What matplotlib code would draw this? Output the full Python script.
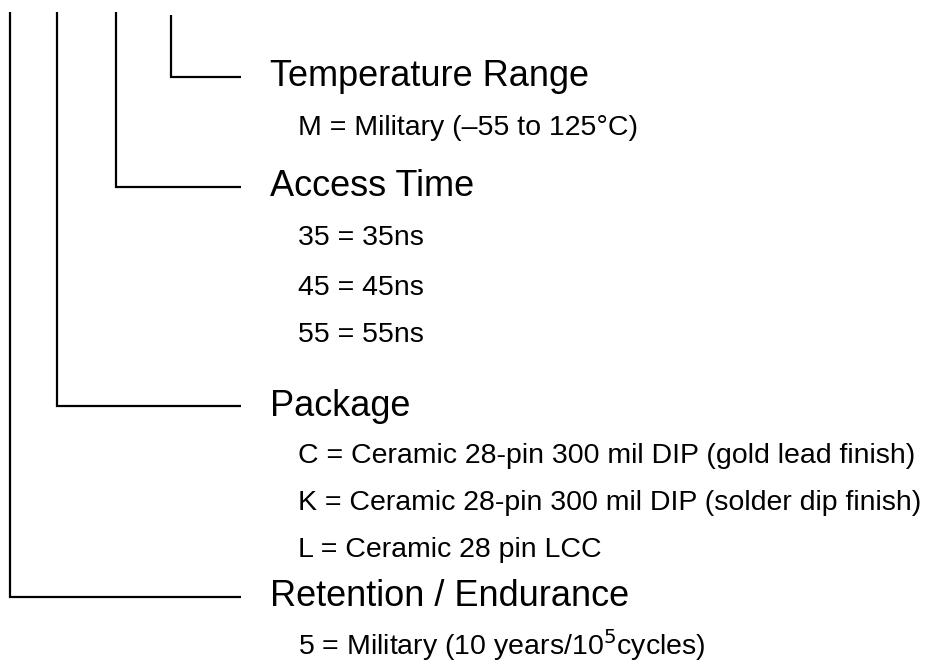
import matplotlib
matplotlib.use("Agg")
import matplotlib.pyplot as plt

plt.rcParams['font.family'] = ['Liberation Sans', 'DejaVu Sans']

headings = ["Temperature Range", "Access Time", "Package", "Retention / Endurance"]
items = [
    ["M = Military (\u201355 to 125\u00b0C)"],
    ["35 = 35ns", "45 = 45ns", "55 = 55ns"],
    ["C = Ceramic 28-pin 300 mil DIP (gold lead finish)",
     "K = Ceramic 28-pin 300 mil DIP (solder dip finish)",
     "L = Ceramic 28 pin LCC"],
    ["5 = Military (10 years/10$^{5}$cycles)"],
]

# layout (pixels)
W, H = 931, 671
vx = [171, 116, 57, 10]
vtop = [15, 12, 12, 12]
head_y = [77, 187, 406, 597]
item_y = [[128], [238, 288, 335], [456, 503, 550], [645]]
line_end = 241
head_x = 270
item_x = 298

fig = plt.figure(figsize=(W / 100, H / 100), dpi=100)
ax = fig.add_axes([0, 0, 1, 1])
ax.set_xlim(0, W)
ax.set_ylim(H, 0)
ax.axis('off')

for i, h in enumerate(headings):
    ax.plot([vx[i], vx[i], line_end], [vtop[i], head_y[i], head_y[i]],
            color='black', lw=1.6, solid_joinstyle='miter', solid_capstyle='butt')
    ax.text(head_x, head_y[i], h, fontsize=26, va='center', ha='left', color='black')
    for t, y in zip(items[i], item_y[i]):
        ax.text(item_x, y, t, fontsize=20.5, va='center', ha='left', color='black')

fig.savefig("out.png", dpi=100)
